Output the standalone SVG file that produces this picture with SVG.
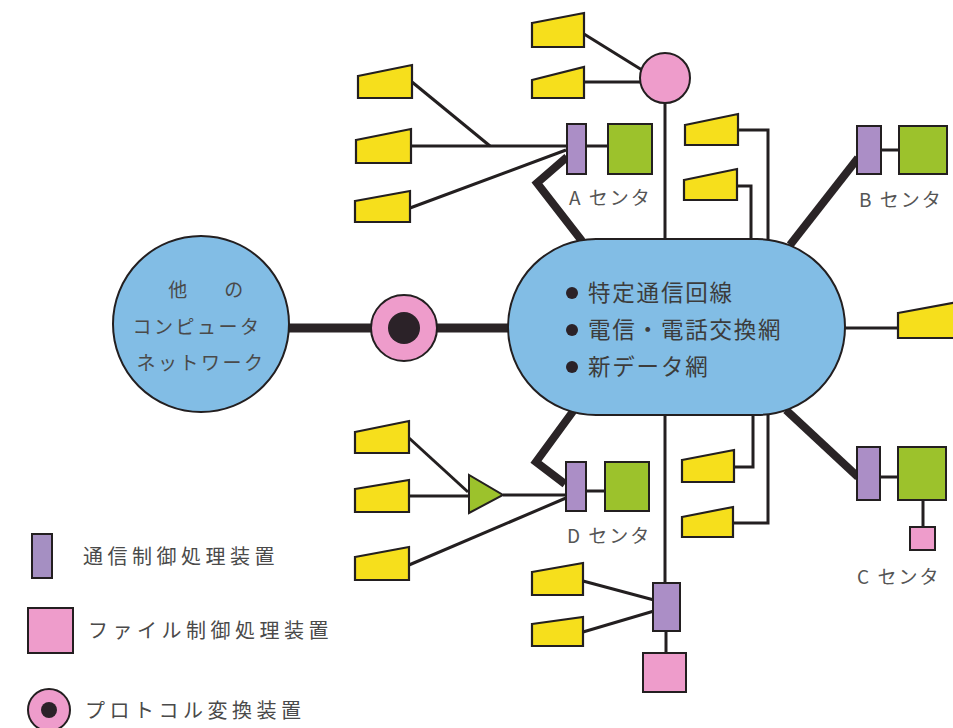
<svg xmlns="http://www.w3.org/2000/svg" width="953" height="728" viewBox="0 0 953 728">
<style>
.term{fill:#f6df1c;stroke:#231f20;stroke-width:2.2;stroke-linejoin:miter}
.ccp{fill:#ab8ec6;stroke:#231f20;stroke-width:2}
.host{fill:#9cc22c;stroke:#231f20;stroke-width:2}
.fcp{fill:#ee9ccb;stroke:#231f20;stroke-width:2}
.net{fill:#82bde5;stroke:#231f20;stroke-width:2}
.ln{fill:none;stroke:#231f20;stroke-width:3}
.thick{fill:none;stroke:#2a2426;stroke-width:8;stroke-linejoin:miter}
.tx{font-family:"Noto Sans CJK JP","Noto Sans",sans-serif;fill:#4a4a4a}
.lbl{font-size:19px;letter-spacing:2px;fill:#555}
.mid{font-size:22.5px;letter-spacing:1.8px;fill:#3c3c3c}
.lg{font-size:20px;letter-spacing:4.5px;fill:#4a4a4a}
.oth{font-size:19px;letter-spacing:2.5px;fill:#4a4a4a}
</style>
<rect width="953" height="728" fill="#ffffff"/>
<g id="connectors">
  <line class="ln" x1="584" y1="34" x2="642" y2="70"/>
  <line class="ln" x1="584" y1="82" x2="641" y2="82"/>
  <line class="ln" x1="665" y1="102" x2="665" y2="240"/>
  <line class="ln" x1="412" y1="82" x2="490" y2="146"/>
  <line class="ln" x1="411" y1="146" x2="567" y2="146"/>
  <line class="ln" x1="410" y1="208" x2="566" y2="150"/>
  <line class="ln" x1="586" y1="146" x2="608" y2="146"/>
  <polyline class="thick" points="567,157 537,183 582,241"/>
  <polyline class="ln" points="738,130 768,130 768,241"/>
  <polyline class="ln" points="737,186 751,186 751,241"/>
  <line class="thick" x1="790" y1="245" x2="858" y2="158"/>
  <line class="ln" x1="881" y1="150" x2="899" y2="150"/>
  <line class="thick" style="stroke-width:9" x1="289" y1="328" x2="372" y2="328"/>
  <line class="thick" style="stroke-width:9" x1="436" y1="328" x2="510" y2="328"/>
  <line class="ln" x1="845" y1="328" x2="898" y2="328"/>
  <line class="ln" x1="665" y1="414" x2="665" y2="584"/>
  <polyline class="ln" points="734,467 753,467 753,414"/>
  <polyline class="ln" points="733,523 768,523 768,414"/>
  <polyline class="thick" points="574,410 536,462 565,484"/>
  <line class="ln" x1="409" y1="438" x2="468" y2="492"/>
  <line class="ln" x1="409" y1="496" x2="470" y2="496"/>
  <line class="ln" x1="503" y1="495" x2="567" y2="495"/>
  <line class="ln" x1="409" y1="565" x2="566" y2="498"/>
  <line class="ln" x1="586" y1="491" x2="605" y2="491"/>
  <line class="thick" x1="786" y1="410" x2="858" y2="477"/>
  <line class="ln" x1="880" y1="477" x2="898" y2="477"/>
  <line class="ln" x1="923" y1="500" x2="923" y2="527"/>
  <line class="ln" x1="583" y1="581" x2="654" y2="600"/>
  <line class="ln" x1="583" y1="632" x2="654" y2="611"/>
  <line class="ln" x1="666" y1="631" x2="666" y2="653"/>
</g>
<g id="other-network">
  <circle class="net" cx="201" cy="324" r="88"/>
  <text class="tx oth" x="179" y="297" text-anchor="middle">他</text>
  <text class="tx oth" x="235" y="297" text-anchor="middle">の</text>
  <text class="tx oth" x="197" y="334" text-anchor="middle">コンピュータ</text>
  <text class="tx oth" x="201" y="370" text-anchor="middle">ネットワーク</text>
</g>
<g id="protocol-converter">
  <circle class="fcp" cx="404" cy="328" r="33"/>
  <circle cx="404" cy="328" r="16" fill="#2b2228"/>
</g>
<g id="public-network">
  <rect class="net" x="508" y="239" width="337" height="176" rx="88" ry="88"/>
  <circle cx="572" cy="293" r="6" fill="#2b2228"/>
  <circle cx="572" cy="330" r="6" fill="#2b2228"/>
  <circle cx="572" cy="367" r="6" fill="#2b2228"/>
  <text class="tx mid" x="588" y="301">特定通信回線</text>
  <text class="tx mid" x="588" y="338">電信・電話交換網</text>
  <text class="tx mid" x="588" y="375">新データ網</text>
</g>
<g id="top-converter">
  <circle class="fcp" cx="665" cy="78" r="25"/>
</g>
<g id="center-A">
  <rect class="ccp" x="567" y="124" width="19" height="50"/>
  <rect class="host" x="608" y="124" width="44" height="50"/>
  <text class="tx lbl" x="569" y="205">A センタ</text>
</g>
<g id="center-B">
  <rect class="ccp" x="857" y="126" width="24" height="48"/>
  <rect class="host" x="899" y="126" width="48" height="48"/>
  <text class="tx lbl" x="859" y="207">B センタ</text>
</g>
<g id="center-C">
  <rect class="ccp" x="857" y="447" width="23" height="53"/>
  <rect class="host" x="898" y="447" width="48" height="53"/>
  <rect class="fcp" x="910" y="527" width="25" height="23"/>
  <text class="tx lbl" x="857" y="584">C センタ</text>
</g>
<g id="center-D">
  <rect class="ccp" x="566" y="462" width="20" height="49"/>
  <rect class="host" x="605" y="462" width="44" height="49"/>
  <text class="tx lbl" x="567" y="543">D センタ</text>
</g>
<g id="concentrator">
  <polygon class="host" points="469,475 469,513 503,495"/>
</g>
<g id="bottom-node">
  <rect class="ccp" x="653" y="583" width="27" height="48"/>
  <rect class="fcp" x="643" y="653" width="43" height="39"/>
</g>
<g id="terminals">
  <polygon class="term" points="532,23 584,13 584,47 532,47"/>
  <polygon class="term" points="532,80 584,67 584,98 532,98"/>
  <polygon class="term" points="358,76 412,65 412,98 358,98"/>
  <polygon class="term" points="356,140 411,129 411,163 356,163"/>
  <polygon class="term" points="355,201 410,191 410,222 355,222"/>
  <polygon class="term" points="685,125 738,114 738,145 685,145"/>
  <polygon class="term" points="684,180 737,169 737,200 684,200"/>
  <polygon class="term" points="898,313 958,302 958,338 898,338"/>
  <polygon class="term" points="355,432 409,421 409,453 355,453"/>
  <polygon class="term" points="355,489 409,480 409,512 355,512"/>
  <polygon class="term" points="355,557 409,547 409,580 355,580"/>
  <polygon class="term" points="682,460 734,450 734,482 682,482"/>
  <polygon class="term" points="682,517 733,507 733,537 682,537"/>
  <polygon class="term" points="532,572 583,563 583,595 532,595"/>
  <polygon class="term" points="532,624 583,617 583,646 532,646"/>
</g>
<g id="legend">
  <rect class="ccp" style="fill:#a58fc2" x="32" y="534" width="20" height="44"/>
  <text class="tx lg" x="83" y="564">通信制御処理装置</text>
  <rect class="fcp" x="28" y="608" width="45" height="45"/>
  <text class="tx lg" x="88" y="638">ファイル制御処理装置</text>
  <circle class="fcp" cx="49" cy="710" r="21"/>
  <circle cx="49" cy="710" r="8" fill="#2b2228"/>
  <text class="tx lg" x="85" y="718">プロトコル変換装置</text>
</g>
</svg>
